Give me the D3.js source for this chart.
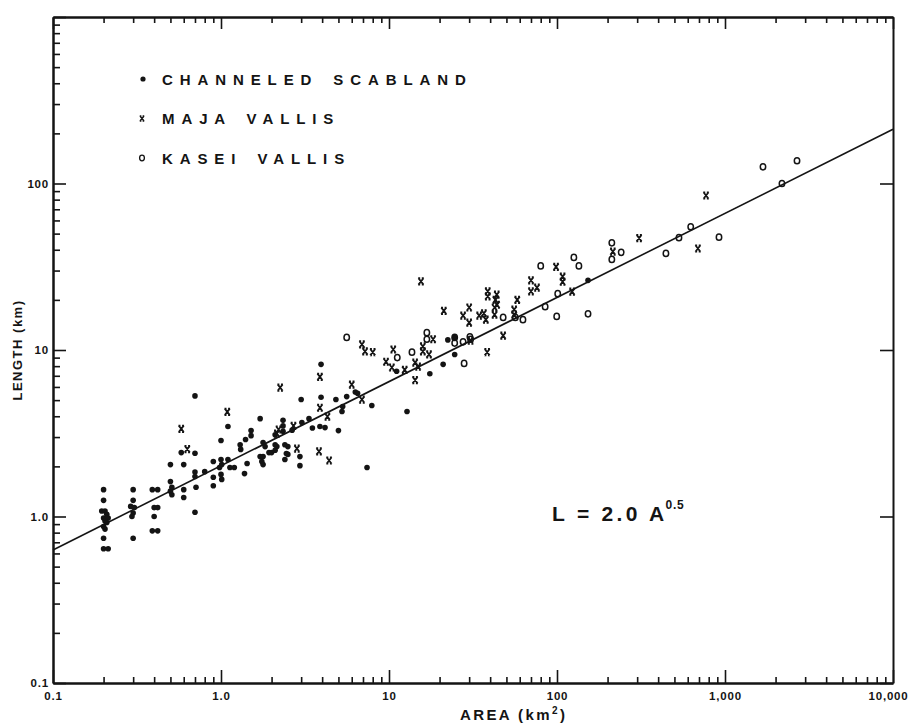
<!DOCTYPE html>
<html>
<head>
<meta charset="utf-8">
<script src="https://cdn.jsdelivr.net/npm/d3@7"></script>
<style>
  body { margin: 0; background: #fff; }
  svg text { font-family: "Liberation Sans", Arial, sans-serif; font-weight: bold; fill: #141414; }
  .axis .domain { stroke: #141414; stroke-width: 2; }
  .axis .tick line { stroke: #141414; stroke-width: 1.6; }
</style>
</head>
<body>
<div id="chart"></div>
<script>
// data: [area km2, length km]
var scabland = [
  [0.2,1.45],[0.2,1.25],[0.195,1.08],[0.204,1.08],[0.209,1.03],[0.2,0.98],[0.213,0.98],
  [0.204,0.94],[0.209,0.92],[0.2,0.87],[0.204,0.84],[0.2,0.74],[0.2,0.64],[0.213,0.64],
  [0.3,1.45],[0.3,1.25],[0.29,1.15],[0.305,1.13],[0.3,1.05],[0.295,1.0],[0.3,0.74],
  [0.39,1.45],[0.42,1.45],[0.4,1.13],[0.42,1.13],[0.4,1.0],[0.39,0.82],[0.42,0.82],
  [0.5,2.05],[0.5,1.62],[0.51,1.5],[0.5,1.42],[0.51,1.35],
  [0.6,2.05],[0.58,2.42],[0.6,1.45],[0.6,1.3],
  [0.7,2.4],[0.7,1.85],[0.7,1.74],[0.71,1.5],[0.7,1.06],[0.7,5.3],
  [0.8,1.86],[0.9,2.14],[0.9,1.72],[0.9,1.53],
  [0.98,1.97],[1.0,1.79],[1.01,1.67],[1.0,2.2],[1.01,2.05],[1.1,2.2],[1.13,1.97],
  [1.0,2.86],[1.1,3.47],[1.2,1.97],[1.3,2.7],[1.31,2.53],[1.4,2.9],[1.43,2.08],[1.38,1.81],
  [1.51,3.28],[1.51,3.06],[1.71,3.87],[1.71,2.29],[1.75,2.14],[1.78,2.05],[1.78,2.78],
  [1.83,2.63],[1.93,2.42],[2.0,2.42],[2.1,3.1],[2.1,2.7],[2.15,2.63],[2.1,2.5],[1.78,2.29],
  [2.34,3.78],[2.4,2.2],[2.5,2.36],[2.5,2.63],[2.34,3.5],[2.34,3.25],[2.65,3.3],
  [2.4,2.7],[2.45,2.39],[2.95,2.29],[2.95,2.02],
  [3.0,5.04],[3.03,3.67],[3.34,3.87],[3.5,3.4],[3.88,3.47],[4.16,3.42],[3.94,8.2],[3.94,5.2],
  [4.83,5.04],[5.6,5.25],[6.3,5.6],[6.5,5.5],[7.9,4.64],[5.3,4.58],[5.25,4.27],[5.0,3.28],
  [7.4,1.97],[11.1,7.45],[12.8,4.27],[17.5,7.2],[21,8.2],[22.4,11.5],[24.6,11.9],[24.6,9.4],
  [153,26.2]
];
var maja = [
  [0.58,3.36],[0.63,2.54],[1.09,4.25],[2.25,5.95],[2.2,3.33],[2.7,3.5],[2.15,3.15],[2.83,2.56],
  [3.83,2.46],[4.4,2.17],[3.88,6.9],[3.88,4.5],[4.3,3.98],[6.0,6.2],[6.9,5.04],[6.9,10.8],
  [7.2,9.8],[8.0,9.7],[10.6,10.07],[9.6,8.5],[10.4,7.85],[12.4,7.6],[14.3,8.4],[14.9,7.95],
  [14.3,6.6],[15.9,10.5],[15.9,9.8],[17.3,9.4],[18.3,11.6],[15.5,25.8],[21.2,17.2],[27.6,16.1],
  [30,18],[30,14.6],[34.4,16.1],[36.7,16.6],[37.7,15.2],[38.7,22.5],[38.7,21],[43.8,21.5],
  [43,20],[42.5,18],[42.5,16.3],[44,18.7],[30.6,11.4],[38.4,9.7],[47.8,12.2],[58,20],
  [55.6,17.5],[55.6,16.3],[70,26.2],[70,22.5],[76,23.7],[98.7,31.6],[108,27.6],[108,25.7],
  [123,22.4],[215,39],[308,47],[690,40.7],[771,84.7]
];
var kasei = [
  [5.6,11.9],[11.2,9.0],[13.7,9.7],[16.8,12.7],[16.8,11.6],[24.6,11.0],[24.6,11.9],[27.6,11.2],
  [30.3,12.0],[30.6,11.6],[28,8.3],[47.8,15.7],[56.5,15.7],[62.7,15.2],[80,32],[85,18.2],
  [99.6,15.9],[101,21.8],[126,36],[135,32],[153,16.5],[212,44],[212,35],[241,38.6],
  [445,38],[532,47.3],[625,55],[921,47.6],[1683,126],[2183,100],[2683,137]
];
var fitArea = [0.1, 10000];
var fitLength = [0.63, 212];

var xTickValues = [0.1, 1, 10, 100, 1000, 10000];
var xTickLabels = ["0.1", "1.0", "10", "100", "1,000", "10,000"];
var yTickValues = [0.1, 1, 10, 100, 1000];
var yTickLabels = ["0.1", "1.0", "10", "100", ""];
var legendNames = ["CHANNELED SCABLAND", "MAJA VALLIS", "KASEI VALLIS"];

var svgWidth = 909;
var svgHeight = 724;
var margin = { top: 17, right: 16, bottom: 41, left: 53 };
var width = svgWidth - margin.left - margin.right;
var height = svgHeight - margin.top - margin.bottom;

var svg = d3.select("#chart")
  .append("svg")
  .attr("width", svgWidth)
  .attr("height", svgHeight);

var chartGroup = svg.append("g")
  .attr("transform", `translate(${margin.left}, ${margin.top})`);

var x = d3.scaleLog().domain([0.1, 10000]).range([0, width]);
var y = d3.scaleLog().domain([0.1, 1000]).range([height, 0]);

// minor ticks 2..9 in every decade
function minors(dom) {
  var out = [];
  for (var e = Math.log10(dom[0]); e < Math.log10(dom[1]); e++) {
    for (var m = 2; m <= 9; m++) out.push(m * Math.pow(10, e));
  }
  return out;
}
var xMinor = minors(x.domain());
var yMinor = minors(y.domain());

// bottom axis
chartGroup.append("g").attr("class", "axis")
  .attr("transform", `translate(0, ${height})`)
  .call(d3.axisBottom(x).tickValues(xMinor).tickSize(-6).tickSizeOuter(0).tickFormat(""));
var bottomMajor = chartGroup.append("g").attr("class", "axis")
  .attr("transform", `translate(0, ${height})`)
  .call(d3.axisBottom(x).tickValues(xTickValues).tickSize(-13).tickSizeOuter(0)
    .tickFormat((d, i) => xTickLabels[i]));
bottomMajor.selectAll("text")
  .attr("y", 9).attr("dy", "0.71em")
  .style("font-size", "11.5px").style("letter-spacing", "0.8px");
bottomMajor.selectAll(".tick").filter(d => d === 10000).select("text")
  .attr("text-anchor", "end").attr("x", 15);

// top axis
chartGroup.append("g").attr("class", "axis")
  .call(d3.axisTop(x).tickValues(xMinor).tickSize(-6).tickSizeOuter(0).tickFormat(""));
chartGroup.append("g").attr("class", "axis")
  .call(d3.axisTop(x).tickValues(xTickValues).tickSize(-12).tickSizeOuter(0).tickFormat(""));

// left axis
chartGroup.append("g").attr("class", "axis")
  .call(d3.axisLeft(y).tickValues(yMinor).tickSize(-7).tickSizeOuter(0).tickFormat(""));
var leftMajor = chartGroup.append("g").attr("class", "axis")
  .call(d3.axisLeft(y).tickValues(yTickValues).tickSize(-13).tickSizeOuter(0)
    .tickFormat((d, i) => yTickLabels[i]));
leftMajor.selectAll("text")
  .attr("x", -4)
  .style("font-size", "11.5px").style("letter-spacing", "0.8px");

// right axis, decades only
chartGroup.append("g").attr("class", "axis")
  .attr("transform", `translate(${width}, 0)`)
  .call(d3.axisRight(y).tickValues(yTickValues).tickSize(-13).tickSizeOuter(0).tickFormat(""));

// fitted line
var line = d3.line().x(d => x(d[0])).y(d => y(d[1]));
chartGroup.append("path")
  .datum(fitArea.map((a, i) => [a, fitLength[i]]))
  .attr("d", line)
  .attr("fill", "none")
  .attr("stroke", "#141414")
  .attr("stroke-width", 1.6);

// markers
var xMark = "M-2.5,-3.2L2.5,3.2M-2.5,3.2L2.5,-3.2M-2.8,-3.2H-0.8M0.8,-3.2H2.8M-2.8,3.2H-0.8M0.8,3.2H2.8";

function drawDots(g, data) {
  g.selectAll(null).data(data).enter().append("circle")
    .attr("cx", d => x(d[0])).attr("cy", d => y(d[1]))
    .attr("r", 2.8).attr("fill", "#141414");
}
function drawCrosses(g, data) {
  g.selectAll(null).data(data).enter().append("path")
    .attr("transform", d => `translate(${x(d[0])}, ${y(d[1])})`)
    .attr("d", xMark)
    .attr("fill", "none").attr("stroke", "#141414").attr("stroke-width", 1.8);
}
function drawRings(g, data) {
  g.selectAll(null).data(data).enter().append("ellipse")
    .attr("cx", d => x(d[0])).attr("cy", d => y(d[1]))
    .attr("rx", 2.7).attr("ry", 3.1)
    .attr("fill", "none").attr("stroke", "#141414").attr("stroke-width", 1.5);
}
drawDots(chartGroup.append("g"), scabland);
drawCrosses(chartGroup.append("g"), maja);
drawRings(chartGroup.append("g"), kasei);

// legend
var legend = svg.append("g");
var legendY = d3.scalePoint().domain(legendNames).range([79, 158]);
legend.append("circle").attr("cx", 143).attr("cy", legendY(legendNames[0])).attr("r", 2.6).attr("fill", "#141414");
legend.append("path").attr("transform", `translate(142, ${legendY(legendNames[1])}) scale(0.8)`)
  .attr("d", xMark).attr("fill", "none").attr("stroke", "#141414").attr("stroke-width", 1.8);
legend.append("ellipse").attr("cx", 142).attr("cy", legendY(legendNames[2]))
  .attr("rx", 2.4).attr("ry", 2.8).attr("fill", "none").attr("stroke", "#141414").attr("stroke-width", 1.3);
legend.selectAll(null).data(legendNames).enter().append("text")
  .attr("x", 162).attr("y", d => legendY(d) + 5.5)
  .style("font-size", "15px").style("letter-spacing", "6.9px").style("word-spacing", "4px")
  .text(d => d);

// equation
var eq = svg.append("text").attr("x", 552).attr("y", 521).style("font-size", "21px").style("letter-spacing", "3.3px");
eq.append("tspan").text("L = 2.0 A");
eq.append("tspan").attr("dx", -2).attr("dy", -12).style("font-size", "12px").style("letter-spacing", "0.8px").text("0.5");

// axis titles
svg.append("text")
  .attr("transform", "rotate(-90)")
  .attr("x", -350).attr("y", 22)
  .attr("text-anchor", "middle")
  .style("font-size", "13px").style("letter-spacing", "1.5px")
  .text("LENGTH (km)");

var xt = svg.append("text")
  .attr("x", 460).attr("y", 720)
  .style("font-size", "15px").style("letter-spacing", "2.4px");
xt.append("tspan").text("AREA (km");
xt.append("tspan").attr("dy", -6).style("font-size", "10px").text("2");
xt.append("tspan").attr("dy", 6).text(")");
</script>
</body>
</html>
